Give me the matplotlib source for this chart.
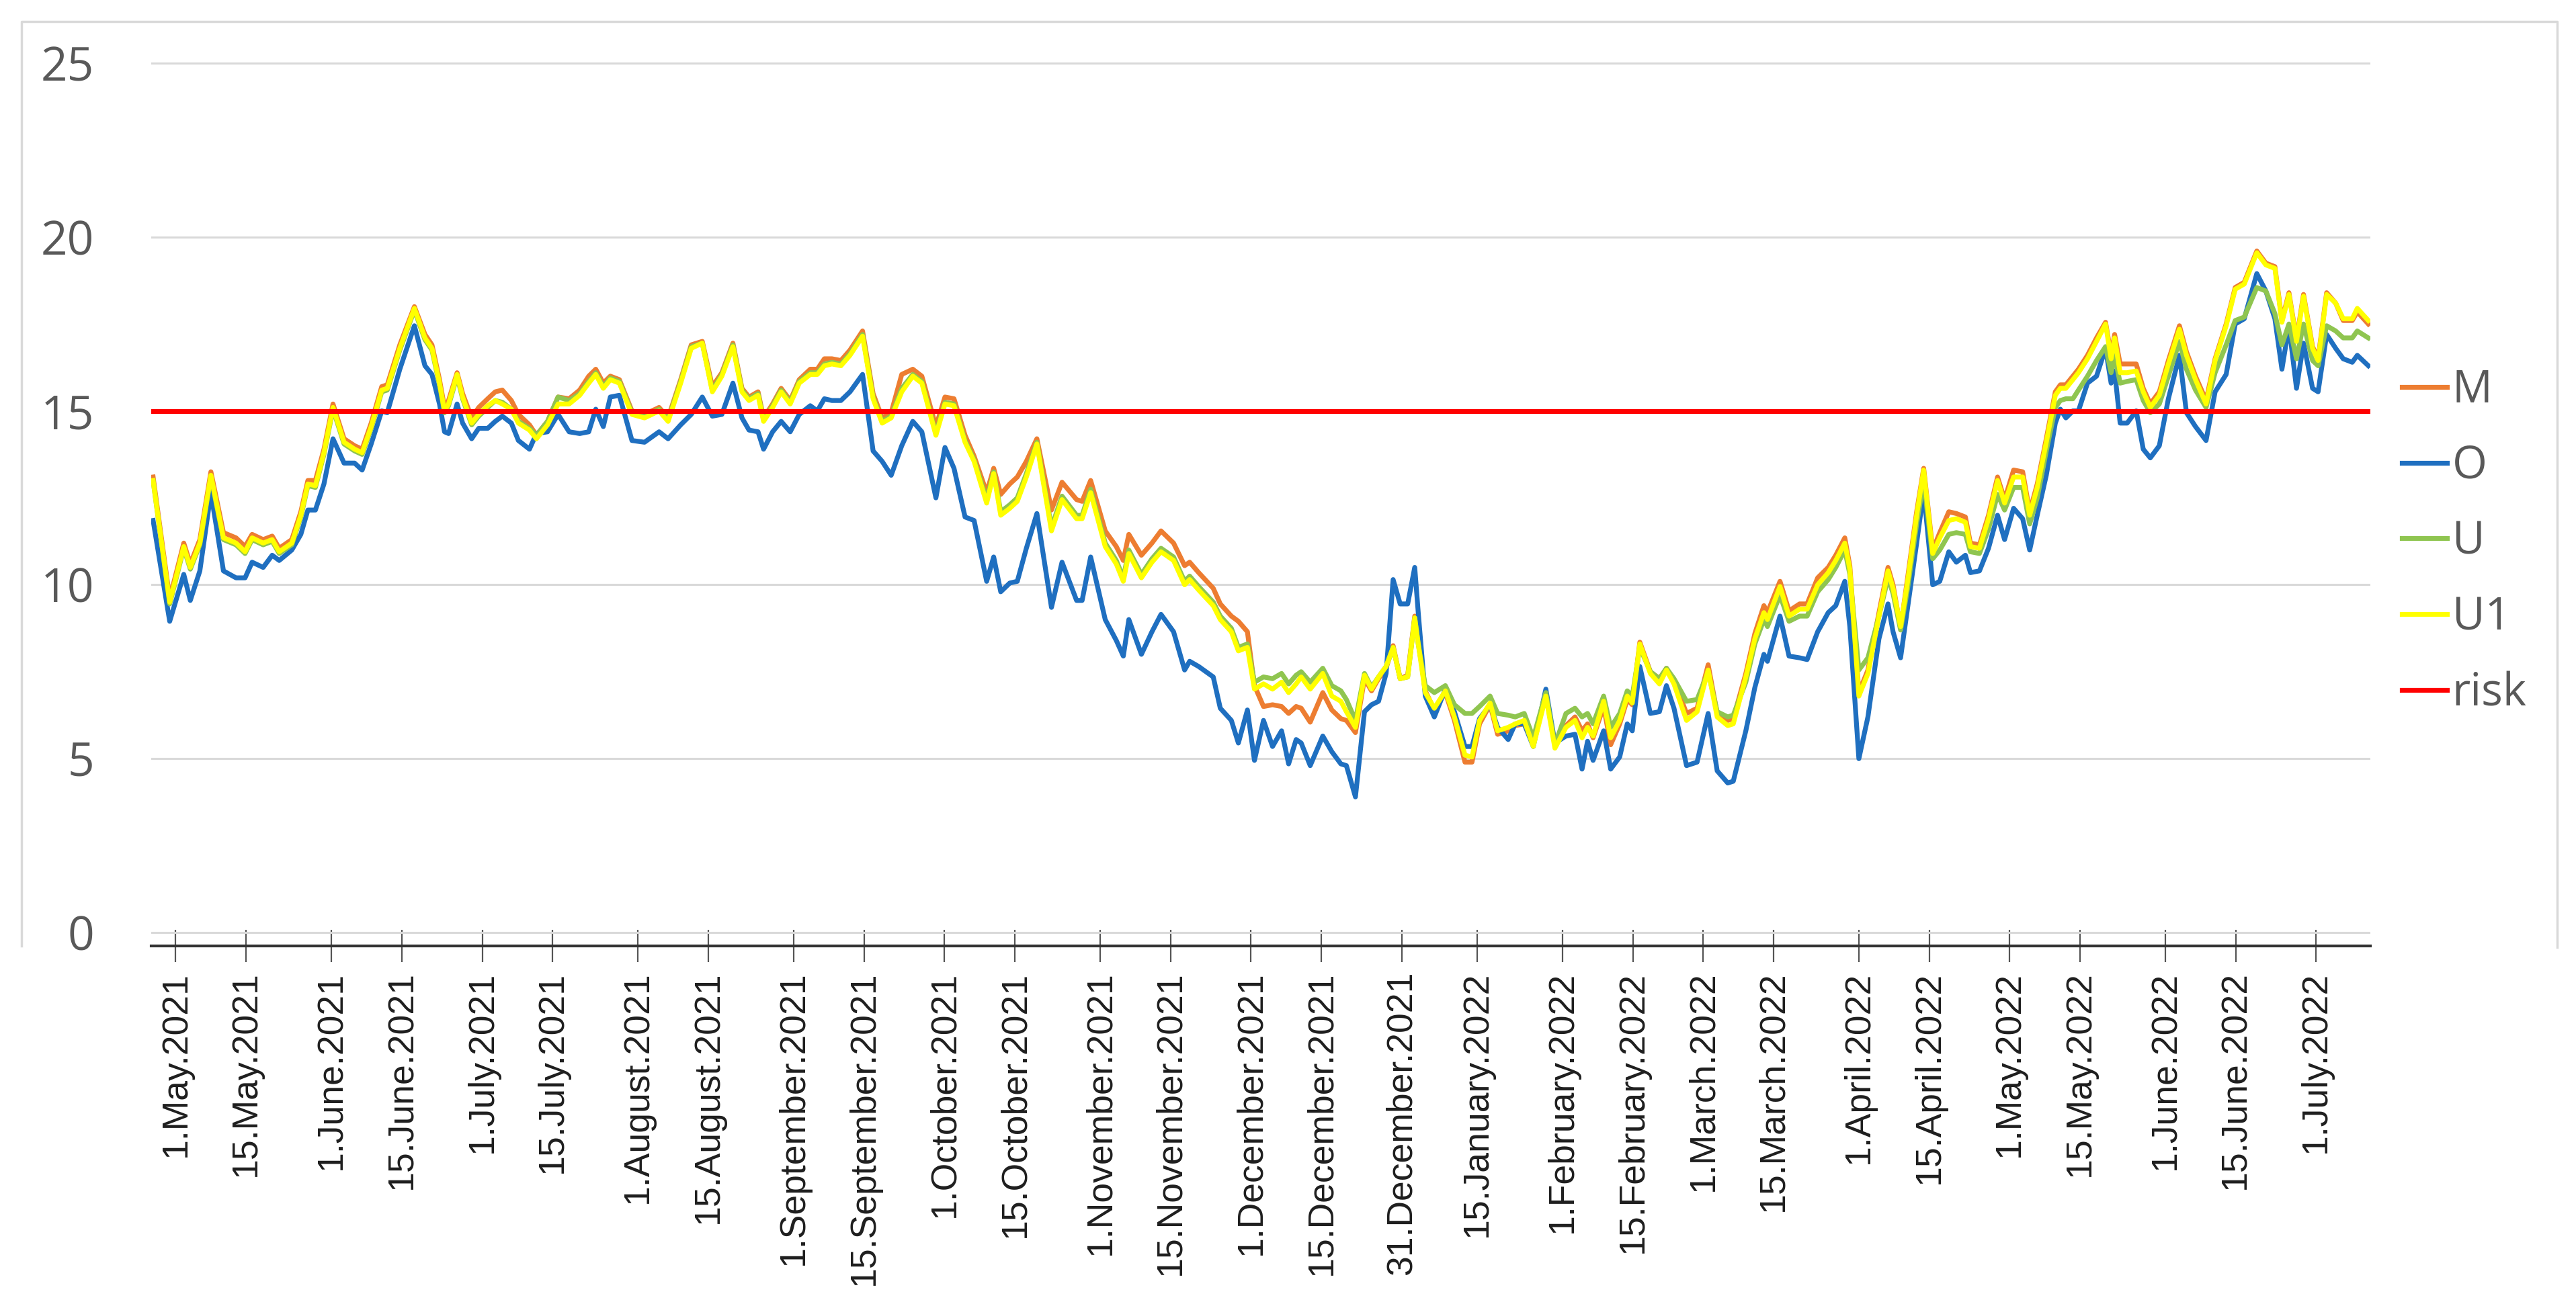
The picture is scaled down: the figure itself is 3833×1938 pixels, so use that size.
import pandas as pd
from matplotlib import pyplot as plt
from matplotlib.lines import Line2D

# days counted from 1 May 2021
START = pd.Timestamp('2021-05-01')
DAYS = [
    -4.5, -1.2, 1.6, 2.9, 4.8, 7.0, 9.5, 12.0, 13.8, 15.2,
    17.4, 19.2, 20.6, 23.1, 24.9, 26.3, 27.8, 29.5, 31.3, 33.5,
    35.6, 37.1, 38.9, 41.0, 42.1, 44.6, 47.5, 49.6, 51.0, 52.5,
    53.5, 54.3, 56.0, 57.1, 58.9, 60.3, 62.1, 63.6, 65.0, 66.8,
    68.2, 70.4, 71.8, 74.0, 76.1, 78.3, 80.4, 82.2, 83.6, 85.1,
    86.5, 88.3, 90.8, 93.3, 96.2, 98.0, 100.5, 102.6, 104.8, 106.8,
    108.7, 110.9, 112.7, 114.1, 115.9, 117.0, 118.8, 120.5, 122.3, 124.1,
    126.3, 127.7, 129.1, 130.6, 132.4, 134.2, 136.7, 138.8, 140.6, 142.4,
    144.5, 146.7, 148.5, 151.3, 153.1, 154.9, 157.1, 158.9, 161.4, 162.8,
    164.2, 166.0, 167.5, 169.3, 171.4, 174.3, 176.4, 179.3, 180.4, 182.1,
    185.0, 187.2, 188.6, 189.7, 192.2, 194.3, 196.1, 198.6, 200.8, 201.8,
    203.6, 206.5, 207.9, 210.1, 211.5, 213.3, 214.7, 216.5, 218.3, 220.1,
    221.5, 223.0, 224.0, 225.8, 228.3, 230.1, 231.9, 233.0, 234.8, 236.6,
    238.0, 239.4, 240.9, 242.3, 243.7, 245.2, 246.6, 247.3, 248.7, 250.5,
    252.7, 254.5, 256.6, 258.0, 259.5, 261.6, 263.1, 265.2, 266.6, 268.4,
    270.2, 272.7, 274.5, 276.7, 278.5, 279.9, 281.0, 282.1, 284.2, 285.6,
    287.4, 288.9, 289.9, 291.4, 293.5, 295.3, 296.7, 298.2, 300.7, 302.8,
    305.0, 306.8, 308.9, 310.0, 312.5, 314.3, 316.1, 316.8, 319.3, 321.1,
    323.2, 324.7, 326.8, 328.9, 330.4, 332.2, 333.2, 335.0, 336.8, 339.0,
    340.8, 341.8, 343.3, 344.7, 346.5, 347.9, 349.7, 351.1, 352.9, 354.4,
    356.2, 357.2, 359.0, 360.8, 362.6, 364.0, 365.8, 367.6, 369.0, 370.5,
    372.3, 374.1, 375.1, 376.2, 377.6, 378.7, 380.5, 382.3, 384.1, 385.2,
    385.9, 387.0, 388.4, 390.2, 391.6, 393.0, 394.8, 396.6, 398.8, 400.2,
    402.0, 404.1, 405.9, 408.1, 409.9, 411.7, 414.2, 416.0, 417.8, 419.2,
    420.6, 422.1, 423.5, 425.3, 426.4, 428.1, 429.9, 431.4, 433.2, 434.2,
    436.4,
]

M = [
    13.1, 9.6, 11.2, 10.6, 11.3, 13.25, 11.5, 11.35, 11.1, 11.45,
    11.3, 11.4, 11.05, 11.3, 12.1, 13.0, 13.0, 13.9, 15.2, 14.2,
    14.0, 13.9, 14.65, 15.7, 15.75, 16.9, 18.0, 17.2, 16.9, 15.9,
    15.1, 15.3, 16.1, 15.5, 14.8, 15.1, 15.35, 15.55, 15.6, 15.3,
    14.9, 14.6, 14.3, 14.7, 15.4, 15.35, 15.6, 16.0, 16.2, 15.8,
    16.0, 15.9, 15.0, 14.9, 15.1, 14.8, 15.9, 16.9, 17.0, 15.7,
    16.1, 16.95, 15.65, 15.4, 15.55, 14.8, 15.2, 15.65, 15.3, 15.9,
    16.2, 16.2, 16.5, 16.5, 16.45, 16.75, 17.3, 15.5, 14.8, 14.95,
    16.05, 16.2, 16.0, 14.55, 15.4, 15.35, 14.3, 13.7, 12.65, 13.35,
    12.6, 12.9, 13.1, 13.55, 14.2, 12.15, 12.95, 12.45, 12.4, 13.0,
    11.55, 11.1, 10.7, 11.45, 10.85, 11.2, 11.55, 11.2, 10.55, 10.65,
    10.35, 9.9, 9.45, 9.1, 8.95, 8.65, 7.1, 6.5, 6.55, 6.5,
    6.3, 6.5, 6.45, 6.05, 6.9, 6.4, 6.15, 6.1, 5.75, 7.3,
    6.95, 7.3, 7.6, 8.25, 7.3, 7.4, 9.1, 8.4, 6.95, 6.4,
    6.9, 6.1, 4.9, 4.9, 6.0, 6.55, 5.7, 5.8, 5.95, 6.0,
    5.4, 6.85, 5.4, 5.95, 6.2, 5.8, 6.0, 5.6, 6.5, 5.4,
    6.0, 6.7, 6.55, 8.35, 7.5, 7.3, 7.6, 7.25, 6.3, 6.45,
    7.7, 6.3, 6.1, 6.15, 7.45, 8.6, 9.4, 9.2, 10.1, 9.25,
    9.45, 9.45, 10.2, 10.5, 10.85, 11.35, 10.55, 6.9, 7.55, 9.2,
    10.5, 10.0, 8.75, 10.2, 12.1, 13.35, 11.0, 11.5, 12.1, 12.05,
    11.95, 11.2, 11.15, 12.0, 13.1, 12.45, 13.3, 13.25, 12.1, 12.9,
    14.2, 15.55, 15.75, 15.75, 16.0, 16.2, 16.6, 17.1, 17.55, 16.6,
    17.2, 16.35, 16.35, 16.35, 15.65, 15.2, 15.55, 16.45, 17.45, 16.7,
    16.0, 15.3, 16.5, 17.5, 18.55, 18.7, 19.6, 19.25, 19.15, 17.6,
    18.4, 17.05, 18.35, 16.85, 16.5, 18.4, 18.1, 17.6, 17.6, 17.85,
    17.5,
]

O = [
    11.85, 8.95, 10.3, 9.55, 10.4, 12.65, 10.4, 10.2, 10.2, 10.65,
    10.5, 10.85, 10.7, 11.0, 11.45, 12.15, 12.15, 12.9, 14.2, 13.5,
    13.5, 13.3, 14.05, 15.0, 14.95, 16.2, 17.45, 16.3, 16.05, 15.2,
    14.4, 14.35, 15.2, 14.65, 14.2, 14.5, 14.5, 14.7, 14.85, 14.65,
    14.15, 13.9, 14.35, 14.4, 14.9, 14.4, 14.35, 14.4, 15.05, 14.55,
    15.4, 15.45, 14.15, 14.1, 14.4, 14.2, 14.6, 14.9, 15.4, 14.85,
    14.9, 15.8, 14.8, 14.45, 14.4, 13.9, 14.4, 14.7, 14.4, 14.9,
    15.15, 15.0, 15.35, 15.3, 15.3, 15.55, 16.05, 13.85, 13.55, 13.15,
    14.0, 14.7, 14.4, 12.5, 13.95, 13.35, 11.95, 11.85, 10.1, 10.8,
    9.8, 10.05, 10.1, 11.05, 12.05, 9.35, 10.65, 9.55, 9.55, 10.8,
    9.0, 8.4, 7.95, 9.0, 8.0, 8.65, 9.15, 8.65, 7.55, 7.8,
    7.65, 7.35, 6.45, 6.1, 5.45, 6.4, 4.95, 6.1, 5.35, 5.8,
    4.85, 5.55, 5.45, 4.8, 5.65, 5.2, 4.85, 4.8, 3.9, 6.35,
    6.55, 6.65, 7.45, 10.15, 9.45, 9.45, 10.5, 9.2, 6.8, 6.2,
    7.0, 6.35, 5.35, 5.35, 6.15, 6.55, 5.9, 5.55, 6.0, 6.0,
    5.35, 7.0, 5.45, 5.65, 5.7, 4.7, 5.5, 4.95, 5.8, 4.7,
    5.05, 6.0, 5.8, 7.65, 6.3, 6.35, 7.1, 6.45, 4.8, 4.9,
    6.3, 4.65, 4.3, 4.35, 5.8, 7.05, 8.0, 7.8, 9.1, 7.95,
    7.9, 7.85, 8.65, 9.2, 9.4, 10.1, 8.8, 5.0, 6.2, 8.45,
    9.45, 8.65, 7.9, 9.35, 11.2, 12.7, 10.0, 10.1, 10.95, 10.65,
    10.85, 10.35, 10.4, 11.05, 12.0, 11.3, 12.2, 11.9, 11.0, 12.0,
    13.15, 14.65, 15.05, 14.8, 15.0, 15.0, 15.8, 16.0, 16.8, 15.8,
    16.15, 14.65, 14.65, 15.0, 13.9, 13.65, 14.0, 15.35, 16.6, 14.95,
    14.55, 14.15, 15.55, 16.05, 17.5, 17.65, 18.95, 18.45, 17.65, 16.2,
    17.45, 15.65, 16.95, 15.65, 15.55, 17.2, 16.8, 16.5, 16.4, 16.6,
    16.3,
]

U = [
    13.0, 9.45, 11.05, 10.45, 11.15, 13.1, 11.3, 11.15, 10.9, 11.3,
    11.15, 11.25, 10.9, 11.15, 11.95, 12.85, 12.8, 13.75, 15.05, 14.05,
    13.85, 13.75, 14.5, 15.55, 15.6, 16.75, 17.9, 17.05, 16.75, 15.75,
    14.95, 15.15, 16.0, 15.35, 14.6, 14.85, 15.1, 15.3, 15.25, 15.05,
    14.7, 14.5, 14.3, 14.7, 15.4, 15.3, 15.5, 15.85, 16.1, 15.7,
    15.95, 15.85, 14.95, 14.85, 15.05, 14.75, 15.85, 16.85, 16.95, 15.6,
    16.05, 16.9, 15.6, 15.35, 15.5, 14.75, 15.15, 15.6, 15.25, 15.85,
    16.1, 16.1, 16.35, 16.4, 16.35, 16.65, 17.2, 15.4, 14.7, 14.85,
    15.65, 16.05, 15.85, 14.35, 15.25, 15.2, 14.15, 13.6, 12.45, 13.25,
    12.1, 12.3, 12.5, 13.2, 14.1, 11.65, 12.55, 12.0, 12.0, 12.75,
    11.2, 10.7, 10.2, 11.0, 10.3, 10.75, 11.05, 10.8, 10.1, 10.25,
    9.95, 9.5, 9.1, 8.75, 8.2, 8.3, 7.2, 7.35, 7.3, 7.45,
    7.15, 7.4, 7.5, 7.2, 7.6, 7.1, 6.95, 6.7, 6.1, 7.45,
    7.05, 7.35, 7.65, 8.2, 7.3, 7.35, 9.05, 8.3, 7.1, 6.9,
    7.1, 6.55, 6.3, 6.3, 6.5, 6.8, 6.3, 6.25, 6.2, 6.3,
    5.6, 6.9, 5.4, 6.3, 6.45, 6.2, 6.3, 6.0, 6.8, 5.9,
    6.3, 6.95, 6.8, 8.2, 7.5, 7.3, 7.6, 7.3, 6.65, 6.7,
    7.5, 6.35, 6.2, 6.25, 7.2, 8.3, 9.0, 8.8, 9.7, 8.95,
    9.1, 9.1, 9.8, 10.15, 10.5, 11.0, 10.3, 7.55, 7.9, 9.1,
    10.2, 9.75, 8.7, 9.9, 11.75, 13.0, 10.75, 11.0, 11.45, 11.5,
    11.45, 10.95, 10.9, 11.6, 12.6, 12.15, 12.8, 12.8, 11.75, 12.5,
    13.85, 15.1, 15.3, 15.35, 15.35, 15.6, 16.0, 16.45, 16.85, 16.1,
    16.6, 15.8, 15.85, 15.9, 15.3, 14.95, 15.2, 16.0, 17.0, 16.2,
    15.6, 15.1, 16.1, 16.9, 17.6, 17.7, 18.55, 18.45, 17.8, 16.9,
    17.5, 16.5, 17.5, 16.45, 16.3, 17.45, 17.3, 17.1, 17.1, 17.3,
    17.1,
]

U1 = [
    13.0, 9.5, 11.1, 10.5, 11.2, 13.15, 11.35, 11.2, 10.95, 11.35,
    11.2, 11.3, 10.95, 11.2, 12.0, 12.9, 12.85, 13.8, 15.1, 14.1,
    13.9, 13.8, 14.55, 15.6, 15.65, 16.8, 17.95, 17.1, 16.8, 15.8,
    15.0, 15.2, 16.05, 15.4, 14.65, 14.9, 15.15, 15.3, 15.2, 15.05,
    14.65, 14.45, 14.2, 14.6, 15.2, 15.2, 15.45, 15.8, 16.05, 15.65,
    15.9, 15.8, 14.9, 14.8, 15.0, 14.7, 15.8, 16.8, 16.95, 15.55,
    16.0, 16.85, 15.55, 15.3, 15.45, 14.7, 15.1, 15.55, 15.2, 15.8,
    16.05, 16.05, 16.3, 16.35, 16.3, 16.6, 17.15, 15.35, 14.65, 14.8,
    15.55, 16.0, 15.8, 14.3, 15.2, 15.15, 14.1, 13.55, 12.35, 13.2,
    12.0, 12.2, 12.4, 13.1, 14.05, 11.55, 12.45, 11.9, 11.9, 12.65,
    11.1, 10.6, 10.1, 10.9, 10.2, 10.65, 10.95, 10.7, 10.0, 10.15,
    9.85, 9.4, 9.0, 8.65, 8.1, 8.2, 7.0, 7.15, 7.0, 7.2,
    6.9, 7.15, 7.35, 7.0, 7.45, 6.8, 6.65, 6.35, 5.9, 7.4,
    7.0, 7.35, 7.65, 8.2, 7.3, 7.35, 9.05, 8.3, 6.9, 6.45,
    6.95, 6.2, 5.1, 5.05, 6.1, 6.6, 5.8, 5.9, 6.0, 6.1,
    5.35, 6.8, 5.3, 5.9, 6.1, 5.6, 5.9, 5.65, 6.65, 5.6,
    6.1, 6.8, 6.6, 8.3, 7.45, 7.15, 7.55, 7.15, 6.1, 6.35,
    7.55, 6.2, 5.95, 6.0, 7.35, 8.45, 9.2, 9.0, 9.95, 9.1,
    9.3, 9.3, 10.0, 10.35, 10.7, 11.2, 10.45, 6.8, 7.45, 9.1,
    10.4, 9.9, 8.8, 10.1, 12.0, 13.3, 10.9, 11.35, 11.85, 11.9,
    11.8, 11.1, 11.05, 11.9, 13.0, 12.35, 13.1, 13.1, 12.0, 12.8,
    14.1, 15.45, 15.65, 15.65, 15.9, 16.1, 16.5, 17.0, 17.5, 16.5,
    17.1, 16.1, 16.1, 16.15, 15.55, 15.1, 15.45, 16.35, 17.35, 16.6,
    15.9, 15.2, 16.45, 17.45, 18.5, 18.65, 19.55, 19.2, 19.1, 17.55,
    18.35, 17.0, 18.3, 16.8, 16.45, 18.35, 18.1, 17.65, 17.65, 17.95,
    17.6,
]

RISK = 15

TICK_DATES = [
    '2021-05-01', '2021-05-15', '2021-06-01', '2021-06-15', '2021-07-01',
    '2021-07-15', '2021-08-01', '2021-08-15', '2021-09-01', '2021-09-15',
    '2021-10-01', '2021-10-15', '2021-11-01', '2021-11-15', '2021-12-01',
    '2021-12-15', '2021-12-31', '2022-01-15', '2022-02-01', '2022-02-15',
    '2022-03-01', '2022-03-15', '2022-04-01', '2022-04-15', '2022-05-01',
    '2022-05-15', '2022-06-01', '2022-06-15', '2022-07-01',
]

COLORS = {'M': '#ed7d31', 'O': '#1f6fc0', 'U': '#8fc550',
          'U1': '#ffff00', 'risk': '#ff0000'}

W, H = 3833, 1938
plt.rcParams['font.family'] = ['Liberation Sans', 'DejaVu Sans']

fig = plt.figure(figsize=(W / 100, H / 100), dpi=100)
ax = fig.add_axes([225 / W, 1 - 1408 / H, (3527 - 225) / W, (1408 - 91) / H])

dates = START + pd.to_timedelta(DAYS, unit='D')
for name, vals in [('M', M), ('O', O), ('U', U), ('U1', U1)]:
    ax.plot(dates, vals, color=COLORS[name], lw=5.2, label=name,
            solid_joinstyle='round')
ax.plot(dates, [RISK] * len(DAYS), color=COLORS['risk'], lw=5.2, label='risk')

ax.set_xlim(START - pd.Timedelta(days=4.88), START + pd.Timedelta(days=436.8))
ax.set_ylim(-0.386, 25.06)
ax.set_yticks([0, 5, 10, 15, 20, 25])
ax.yaxis.grid(True, color='#d9d9d9', lw=2.2)
ax.set_axisbelow(True)

ticks = pd.to_datetime(TICK_DATES)
ax.set_xticks(ticks)
ax.set_xticklabels([f"{d.day}.{d.strftime('%B')}.{d.year}" for d in ticks])

for side in ['top', 'right', 'left']:
    ax.spines[side].set_visible(False)
ax.spines['bottom'].set_color('#333333')
ax.spines['bottom'].set_linewidth(3)

ax.tick_params(axis='x', direction='inout', length=34, width=1.6,
               color='#555555', labelsize=38.5, labelcolor='#1e1e1e',
               labelrotation=90, pad=10)
ax.tick_params(axis='y', length=0, pad=61, labelsize=50, labelcolor='#595959')
for lbl in ax.get_yticklabels():
    lbl.set_fontfamily('Open Sans')

# chart area border (open at the bottom)
bx = [32 / W, 32 / W, 3805 / W, 3805 / W]
by = [1 - 1408 / H, 1 - 32 / H, 1 - 32 / H, 1 - 1410 / H]
fig.add_artist(Line2D(bx, by, transform=fig.transFigure, color='#d9d9d9', lw=2.5))

handles, labels = ax.get_legend_handles_labels()
fig.legend(handles, labels, loc='center left',
           bbox_to_anchor=(3574 / W, 1 - 807 / H), frameon=False,
           prop={'family': 'Open Sans', 'size': 48}, labelcolor='#595959',
           handlelength=1.0, handletextpad=0.12, labelspacing=0.68,
           borderpad=0, borderaxespad=0)

fig.savefig('out.png', dpi=100)
